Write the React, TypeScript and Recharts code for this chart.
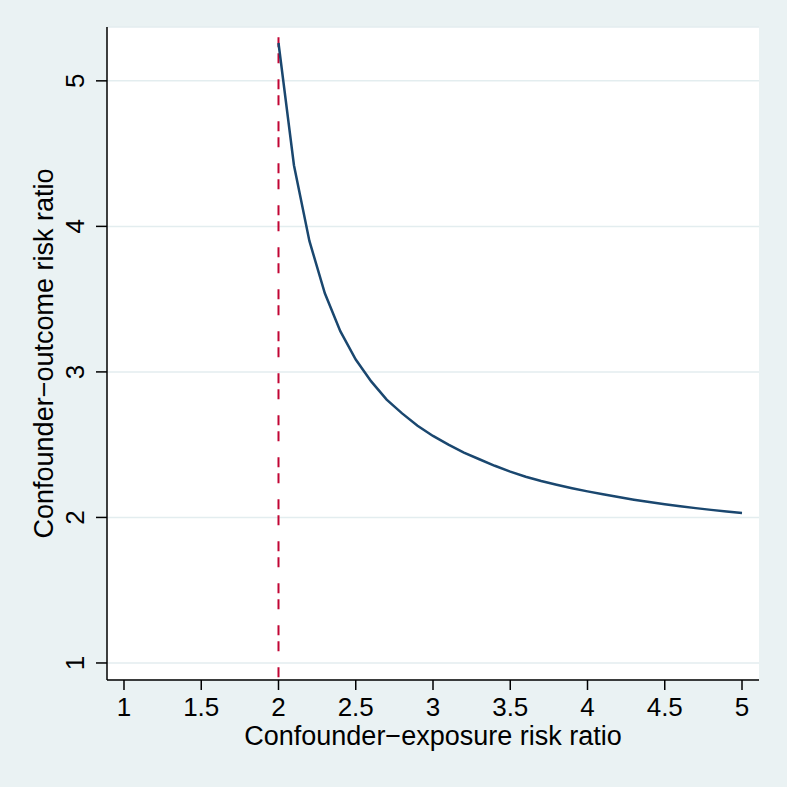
import {
  CartesianGrid,
  Label,
  Line,
  LineChart,
  ReferenceLine,
  XAxis,
  YAxis,
} from "recharts";

// confounder-exposure risk ratio (x) and the matching confounder-outcome risk ratio (y)
const exposureRR = [
  2.0, 2.1, 2.2, 2.3, 2.4, 2.5, 2.6, 2.7, 2.8, 2.9, 3.0, 3.1, 3.2, 3.3, 3.4,
  3.5, 3.6, 3.7, 3.8, 3.9, 4.0, 4.1, 4.2, 4.3, 4.4, 4.5, 4.6, 4.7, 4.8, 4.9,
  5.0,
];
const outcomeRR = [
  5.26, 4.42, 3.9, 3.54, 3.28, 3.085, 2.935, 2.81, 2.715, 2.63, 2.56, 2.5,
  2.445, 2.4, 2.355, 2.315, 2.28, 2.25, 2.225, 2.201, 2.179, 2.159, 2.14,
  2.122, 2.106, 2.091, 2.077, 2.064, 2.052, 2.041, 2.03,
];

const xTicks = [1, 1.5, 2, 2.5, 3, 3.5, 4, 4.5, 5];
const yTicks = [1, 2, 3, 4, 5];
const xDomain = [0.89, 5.11];
const yDomain = [0.883, 5.37];

const thresholdX = 2;
const thresholdTop = 5.3;

const xTitle = "Confounder\u2212exposure risk ratio";
const yTitle = "Confounder\u2212outcome risk ratio";

const data = exposureRR.map((x, i) => ({ x, y: outcomeRR[i] }));

const FONT = "'Liberation Sans', Arial, Helvetica, sans-serif";
const BG = "#EAF2F3";

function XTick(props: any) {
  const { x, y, payload } = props;
  return (
    <text x={x} y={y + 26} textAnchor="middle" fontSize={26} fontFamily={FONT} fill="#000">
      {payload.value}
    </text>
  );
}

function YTick(props: any) {
  const { x, y, payload } = props;
  const bx = x - 12;
  return (
    <text
      x={bx}
      y={y}
      transform={`rotate(-90, ${bx}, ${y})`}
      textAnchor="middle"
      fontSize={26}
      fontFamily={FONT}
      fill="#000"
    >
      {payload.value}
    </text>
  );
}

export default function App() {
  return (
    <div
      style={{
        position: "absolute",
        left: 0,
        top: 0,
        width: 787,
        height: 787,
        background: BG,
      }}
    >
      <LineChart
        width={787}
        height={787}
        data={data}
        margin={{ top: 27, right: 28, bottom: 47, left: 47 }}
      >
        <CartesianGrid
          vertical={false}
          fill="#fff"
          stroke="#E3EDEF"
          strokeWidth={1.5}
        />
        <XAxis
          type="number"
          dataKey="x"
          domain={xDomain}
          ticks={xTicks}
          allowDataOverflow
          height={60}
          tickSize={10}
          tickMargin={0}
          axisLine={{ stroke: "#000", strokeWidth: 1.5 }}
          tickLine={{ stroke: "#000", strokeWidth: 1.5 }}
          tick={<XTick />}
        >
          <Label
            content={(p: any) => {
              const vb = p.viewBox;
              return (
                <text
                  x={vb.x + vb.width / 2}
                  y={vb.y + 65}
                  textAnchor="middle"
                  fontSize={27}
                  fontFamily={FONT}
                  fill="#000"
                >
                  {xTitle}
                </text>
              );
            }}
          />
        </XAxis>
        <YAxis
          type="number"
          domain={yDomain}
          ticks={yTicks}
          allowDataOverflow
          width={60}
          tickSize={11}
          tickMargin={0}
          axisLine={{ stroke: "#000", strokeWidth: 1.5 }}
          tickLine={{ stroke: "#000", strokeWidth: 1.5 }}
          tick={<YTick />}
        >
          <Label
            content={(p: any) => {
              const vb = p.viewBox;
              const cx = 53;
              const cy = vb.y + vb.height / 2;
              return (
                <text
                  x={cx}
                  y={cy}
                  transform={`rotate(-90, ${cx}, ${cy})`}
                  textAnchor="middle"
                  fontSize={27}
                  fontFamily={FONT}
                  fill="#000"
                >
                  {yTitle}
                </text>
              );
            }}
          />
        </YAxis>
        <ReferenceLine
          segment={[
            { x: thresholdX, y: thresholdTop },
            { x: thresholdX, y: yDomain[0] },
          ]}
          stroke="#C10534"
          strokeWidth={2}
          strokeDasharray="10 6 10 16"
        />
        <Line
          type="linear"
          dataKey="y"
          stroke="#1A476F"
          strokeWidth={2.5}
          dot={false}
          isAnimationActive={false}
        />
      </LineChart>
    </div>
  );
}
